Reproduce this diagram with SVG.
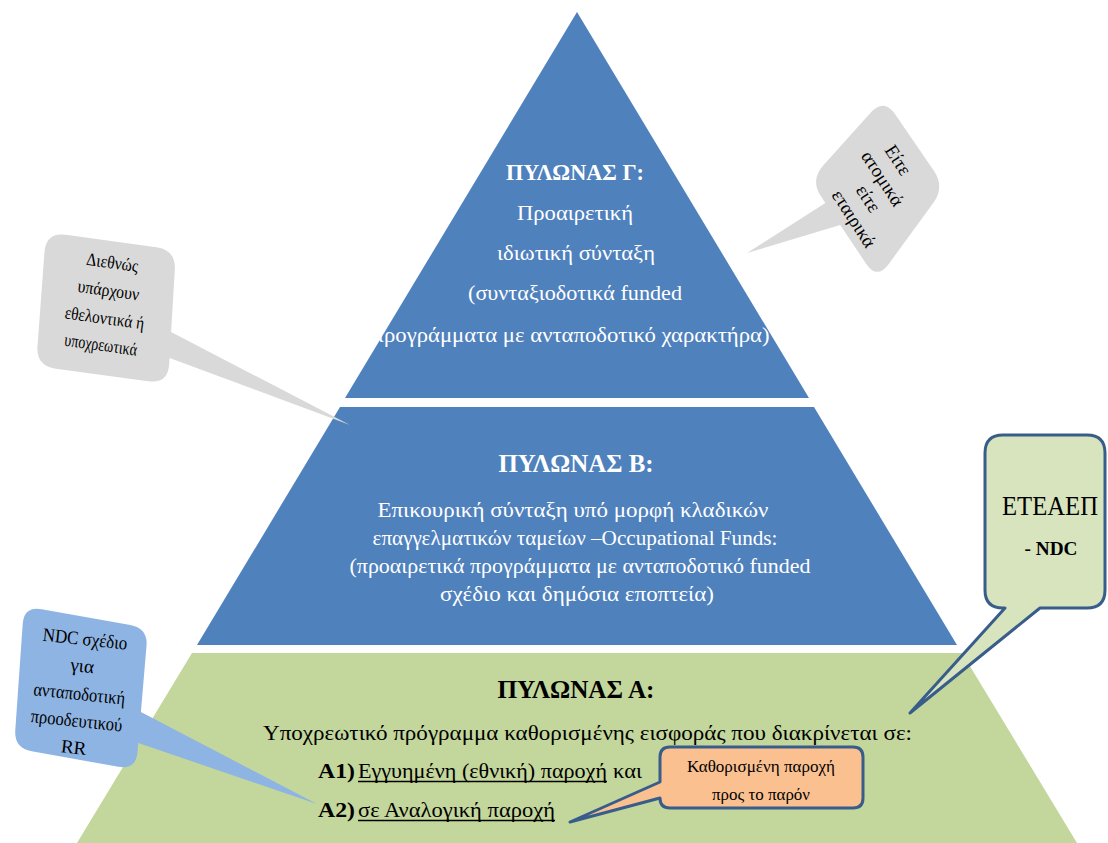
<svg xmlns="http://www.w3.org/2000/svg" width="1108" height="843" viewBox="0 0 1108 843">
<style>
text{font-family:"Liberation Serif","Times New Roman",serif;}
.w{fill:#FFFFFF;}
.k{fill:#000000;}
.b{font-weight:bold;}
.blue{fill:#4F81BD;}
.green{fill:#C3D69B;}
.gray{fill:#D9D9D9;}
.ndc{fill:#8EB4E3;}
.ul{stroke:#000000;stroke-width:1.3;}
</style>
<rect x="0" y="0" width="1108" height="843" fill="#FFFFFF"/>
<g id="pillar-g">
<path class="blue" d="M577,12 L809,398 L345,398 Z"/>
<text class="w b" x="575" y="180" font-size="24" text-anchor="middle" textLength="138" lengthAdjust="spacingAndGlyphs">ΠΥΛΩΝΑΣ Γ:</text>
<text class="w" x="575" y="220" font-size="22" text-anchor="middle" textLength="116" lengthAdjust="spacingAndGlyphs">Προαιρετική</text>
<text class="w" x="576" y="260" font-size="22" text-anchor="middle" textLength="158" lengthAdjust="spacingAndGlyphs">ιδιωτική σύνταξη</text>
<text class="w" x="575" y="300" font-size="22" text-anchor="middle" textLength="214" lengthAdjust="spacingAndGlyphs">(συνταξιοδοτικά funded</text>
<text class="w" x="571" y="342" font-size="22" text-anchor="middle" textLength="397" lengthAdjust="spacingAndGlyphs">προγράμματα με ανταποδοτικό χαρακτήρα)</text>
</g>
<g id="pillar-b">
<path class="blue" d="M340,407 L814,407 L957,645 L197,645 Z"/>
<text class="w b" x="576" y="472" font-size="26" text-anchor="middle" textLength="155" lengthAdjust="spacingAndGlyphs">ΠΥΛΩΝΑΣ Β:</text>
<text class="w" x="573" y="517" font-size="21" text-anchor="middle" textLength="391" lengthAdjust="spacingAndGlyphs">Επικουρική σύνταξη υπό μορφή κλαδικών</text>
<text class="w" x="575" y="545" font-size="21" text-anchor="middle" textLength="405" lengthAdjust="spacingAndGlyphs">επαγγελματικών ταμείων –Occupational Funds:</text>
<text class="w" x="580" y="573" font-size="21" text-anchor="middle" textLength="461" lengthAdjust="spacingAndGlyphs">(προαιρετικά προγράμματα με ανταποδοτικό funded</text>
<text class="w" x="577" y="601" font-size="21" text-anchor="middle" textLength="274" lengthAdjust="spacingAndGlyphs">σχέδιο και δημόσια εποπτεία)</text>
</g>
<g id="pillar-a">
<path class="green" d="M192,653 L962,653 L1077,843 L77,843 Z"/>
<text class="k b" x="576" y="698" font-size="26" text-anchor="middle" textLength="157" lengthAdjust="spacingAndGlyphs">ΠΥΛΩΝΑΣ Α:</text>
<text class="k" x="263" y="740" font-size="21" textLength="649" lengthAdjust="spacingAndGlyphs">Υποχρεωτικό πρόγραμμα καθορισμένης εισφοράς που  διακρίνεται σε:</text>
<text class="k b" x="318" y="778" font-size="22" textLength="37" lengthAdjust="spacingAndGlyphs">A1)</text>
<text class="k" x="358" y="778" font-size="21" textLength="249" lengthAdjust="spacingAndGlyphs">Εγγυημένη (εθνική) παροχή</text>
<line class="ul" x1="358" y1="781.5" x2="607" y2="781.5"/>
<text class="k" x="613" y="778" font-size="21" textLength="29" lengthAdjust="spacingAndGlyphs">και</text>
<text class="k b" x="318" y="817" font-size="22" textLength="37" lengthAdjust="spacingAndGlyphs">A2)</text>
<text class="k" x="358" y="817" font-size="21" textLength="197" lengthAdjust="spacingAndGlyphs">σε Αναλογική παροχή</text>
<line class="ul" x1="358" y1="820.5" x2="555" y2="820.5"/>
</g>
<g id="connectors"/>
<g id="callout-left">
<path class="gray" d="M65.8,234.7 L156.2,247.3 Q176,250 174.8,270 L171.1,332 L350,425 L169.6,358 L169.2,364 Q168,384 148.2,381.3 L55.8,368.7 Q36,366 37.5,346.1 L44.5,251.9 Q46,232 65.8,234.7 Z"/>
<g transform="rotate(8 106 308)">
<text class="k" x="106" y="268" font-size="18" text-anchor="middle" textLength="52" lengthAdjust="spacingAndGlyphs">Διεθνώς</text>
<text class="k" x="106" y="296" font-size="18" text-anchor="middle" textLength="62" lengthAdjust="spacingAndGlyphs">υπάρχουν</text>
<text class="k" x="106" y="324" font-size="18" text-anchor="middle" textLength="80" lengthAdjust="spacingAndGlyphs">εθελοντικά ή</text>
<text class="k" x="106" y="351" font-size="18" text-anchor="middle" textLength="73" lengthAdjust="spacingAndGlyphs">υποχρεωτικά</text>
</g>
</g>
<g id="callout-right">
<path class="gray" d="M895.3,114.5 L933.7,170.5 Q945,187 933.2,203.1 L888.8,263.9 Q877,280 865.9,263.4 L840.2,225 L747,253 L825.4,203 L821.1,196.6 Q810,180 823.4,165.2 L870.6,112.8 Q884,98 895.3,114.5 Z"/>
<g transform="translate(879 188) rotate(57)">
<text class="k" x="-13" y="-25" font-size="19" text-anchor="middle">Είτε</text>
<text class="k" x="-6" y="-2" font-size="19" text-anchor="middle">ατομικά</text>
<text class="k" x="3" y="21" font-size="19" text-anchor="middle">είτε</text>
<text class="k" x="12" y="44" font-size="19" text-anchor="middle">εταιρικά</text>
</g>
</g>
<g id="callout-eteaep">
<path fill="#D7E4BD" stroke="#385D8A" stroke-width="3" stroke-linejoin="round" d="M1003,435 L1087,435 Q1105,435 1105,453 L1105,590 Q1105,608 1087,608 L1040,608 L910,713 L1005,608 L1003,608 Q985,608 985,590 L985,453 Q985,435 1003,435 Z"/>
<text class="k" x="1050" y="515" font-size="27" text-anchor="middle" textLength="96" lengthAdjust="spacingAndGlyphs">ΕΤΕΑΕΠ</text>
<text class="k b" x="1051" y="555" font-size="18" text-anchor="middle" textLength="53" lengthAdjust="spacingAndGlyphs">- NDC</text>
</g>
<g id="callout-ndc">
<path class="ndc" d="M41.7,609.2 L130.3,624.9 Q148,628 146.5,645.9 L140.9,712 L317,804 L138.3,743 L137.5,752.1 Q136,770 118.3,766.8 L31.7,751.2 Q14,748 15.3,730.1 L22.7,623.9 Q24,606 41.7,609.2 Z"/>
<g transform="rotate(6 80 688)">
<text class="k" x="80" y="645" font-size="19" text-anchor="middle" textLength="85" lengthAdjust="spacingAndGlyphs">NDC σχέδιο</text>
<text class="k" x="80" y="672" font-size="19" text-anchor="middle">για</text>
<text class="k" x="80" y="700" font-size="19" text-anchor="middle" textLength="92" lengthAdjust="spacingAndGlyphs">ανταποδοτική</text>
<text class="k" x="80" y="727" font-size="19" text-anchor="middle" textLength="92" lengthAdjust="spacingAndGlyphs">προοδευτικού</text>
<text class="k" x="80" y="754" font-size="19" text-anchor="middle">RR</text>
</g>
</g>
<g id="callout-orange">
<path fill="#FAC090" stroke="#385D8A" stroke-width="3" stroke-linejoin="round" d="M670,747 L853,747 Q863,747 863,757 L863,798 Q863,808 853,808 L670,808 Q660,808 660,798 L570,822 L660,782 L660,757 Q660,747 670,747 Z"/>
<text class="k" x="761" y="772" font-size="17" text-anchor="middle" textLength="148" lengthAdjust="spacingAndGlyphs">Καθορισμένη παροχή</text>
<text class="k" x="761" y="800" font-size="17" text-anchor="middle" textLength="98" lengthAdjust="spacingAndGlyphs">προς το παρόν</text>
</g>
</svg>
